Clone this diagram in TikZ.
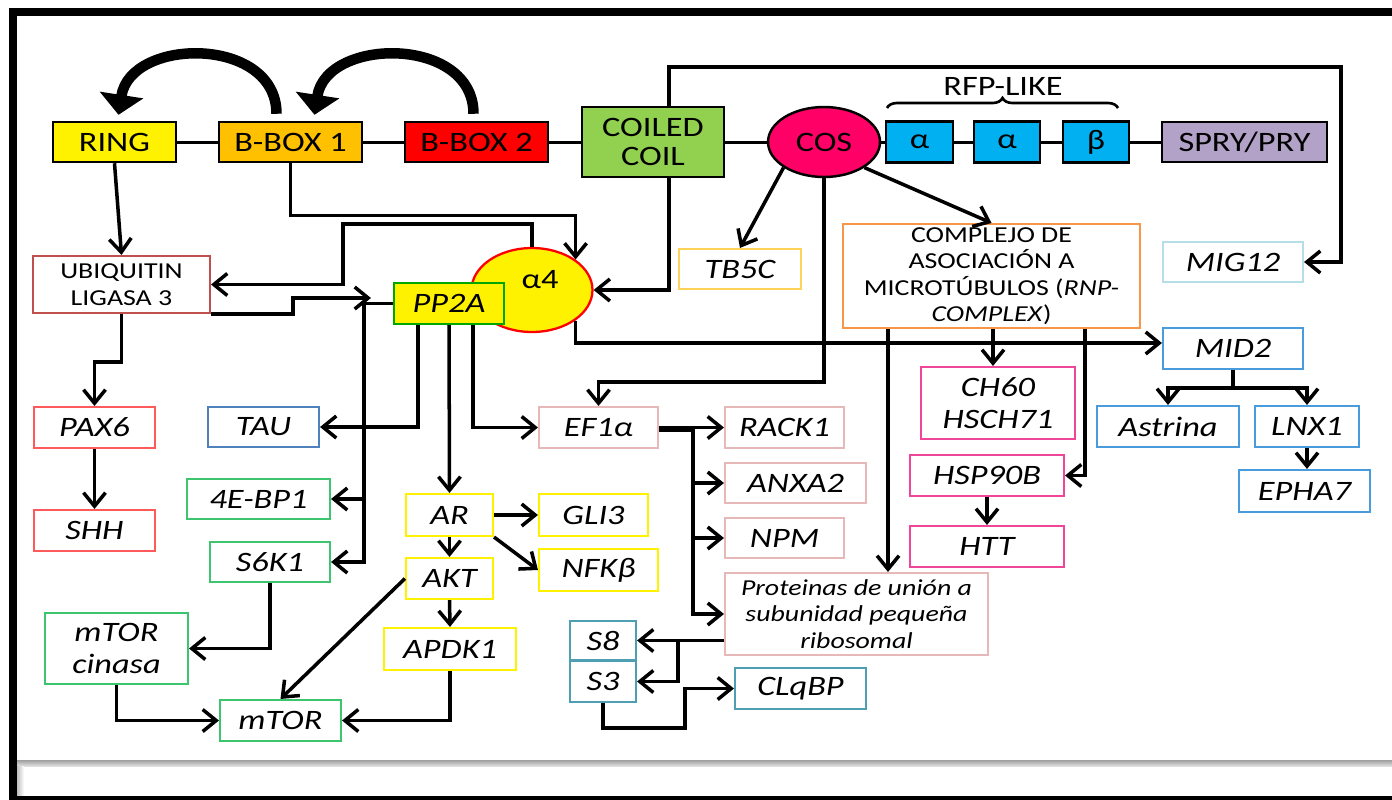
\documentclass[tikz,border=0pt]{standalone}
\usepackage{fontspec}
\setmainfont{Carlito}[FakeStretch=1.22]
\usetikzlibrary{arrows.meta,shapes.geometric,decorations.pathreplacing,calc}
\definecolor{bboxorange}{HTML}{FFC000}
\definecolor{coilgreen}{HTML}{92D050}
\definecolor{cosred}{HTML}{FF0066}
\definecolor{rfpblue}{HTML}{00B0F0}
\definecolor{sprylilac}{HTML}{B3A2C7}
\definecolor{ubqred}{HTML}{C0504D}
\definecolor{paxred}{HTML}{FF5A5A}
\definecolor{taublue}{HTML}{4F81BD}
\definecolor{torgreen}{HTML}{3CC46E}
\definecolor{aryellow}{HTML}{FFF200}
\definecolor{efpink}{HTML}{E6B8B7}
\definecolor{tbgold}{HTML}{FFD25A}
\definecolor{cplxorange}{HTML}{F79646}
\definecolor{migcyan}{HTML}{B7DEE8}
\definecolor{hspmagenta}{HTML}{F0469A}
\definecolor{midblue}{HTML}{4A9BDC}
\definecolor{rsteal}{HTML}{4F9FB3}
\newcommand\bigtxt{\fontsize{16}{18}\selectfont}
\newcommand\smalltxt{\fontsize{13}{15}\selectfont}

\begin{document}
\begin{tikzpicture}[x=0.02cm,y=-0.02cm,>={Straight Barb[length=0.27cm,width=0.44cm]},
  every node/.style={font=\bigtxt},
  dom/.style={draw=black,line width=1.4pt,inner sep=1pt},
  gene/.style={draw=#1,line width=1.2pt,fill=white,inner sep=1pt,font=\bigtxt\itshape},
  arr/.style={->,line width=2pt},
  link/.style={line width=1.7pt},
  bigarr/.style={line width=0.21cm,-{Triangle[width=0.86cm,length=0.40cm]}}]
  \useasboundingbox (0,0) rectangle (1392,799);

  % frame
  \draw[line width=0.16cm] (13,799) -- (13,11.5) -- (1392,11.5);
  \draw[line width=0.08cm] (9,797.5) -- (1392,797.5);
  \shade[top color=gray!75,bottom color=gray!25] (17,760) rectangle (1392,766);
  \shade[left color=gray!50,right color=white] (17,766) rectangle (24,795);

  % domains
  \node[dom,fill=yellow,minimum width=2.46cm,minimum height=0.80cm] (ring) at (114.5,142) {RING};
  \node[dom,fill=bboxorange,minimum width=2.86cm,minimum height=0.80cm] (bbox1) at (290.5,142) {B-BOX 1};
  \node[dom,fill=red,minimum width=2.86cm,minimum height=0.80cm] (bbox2) at (476.5,142) {B-BOX 2};
  \node[dom,fill=coilgreen,minimum width=2.84cm,minimum height=1.40cm,align=center] (coil) at (653,142) {COILED\\[-1pt]COIL};
  \node[dom,ellipse,fill=cosred,minimum width=2.24cm,minimum height=1.40cm,inner sep=0pt] (cos) at (824,142) {COS};
  \node[dom,fill=rfpblue,minimum width=1.34cm,minimum height=0.82cm] (alpha1) at (919.5,142) {α};
  \node[dom,fill=rfpblue,minimum width=1.32cm,minimum height=0.82cm] (alpha2) at (1007,142) {α};
  \node[dom,fill=rfpblue,minimum width=1.32cm,minimum height=0.82cm] (beta) at (1096,142) {β};
  \node[dom,fill=sprylilac,minimum width=3.30cm,minimum height=0.80cm] (spry) at (1244.5,142) {SPRY/PRY};
  \draw[line width=1.5pt,decorate,decoration={brace,amplitude=0.2cm}] (887,108) -- (1118,108);
  \node (rfp) at (1003,86) {RFP-LIKE};

  \draw[link] (ring.east) -- (bbox1.west);
  \draw[link] (bbox1.east) -- (bbox2.west);
  \draw[link] (bbox2.east) -- (coil.west);
  \draw[link] (coil.east) -- (cos.west);
  \draw[link] (cos.east) -- (alpha1.west);
  \draw[link] (alpha1.east) -- (alpha2.west);
  \draw[link] (alpha2.east) -- (beta.west);
  \draw[link] (beta.east) -- (spry.west);

  \draw[bigarr] ([shift={(-14,-7)}]bbox1.north) .. controls +(0,-78) and +(12,-78) .. ([shift={(4,-6)}]ring.north);
  \draw[bigarr] ([shift={(-3,-7)}]bbox2.north) .. controls +(0,-78) and +(12,-78) .. ([shift={(24,-6)}]bbox1.north);

  % partners
  \node[draw=red,line width=1.3pt,ellipse,fill=yellow,minimum width=2.42cm,minimum height=1.68cm,inner sep=0pt] (a4) at (532,290) {};
  \node (a4txt) at (540,280) {α4};
  \node[gene=green!65!black,fill=yellow,minimum width=2.20cm,minimum height=0.82cm] (pp2a) at (449,303.5) {PP2A};
  \node[gene=ubqred,font=\smalltxt,align=center,minimum width=3.54cm,minimum height=1.14cm] (ubiq) at (121.5,284.5) {UBIQUITIN\\LIGASA 3};
  \node[gene=tbgold,minimum width=2.44cm,minimum height=0.80cm] (tbfc) at (740,269) {TB5C};
  \node[gene=cplxorange,font=\smalltxt,align=center,minimum width=5.94cm,minimum height=2.08cm] (complejo) at (991.5,276)
    {COMPLEJO DE\\ASOCIACIÓN A\\MICROTÚBULOS (\textit{RNP-}\\\textit{COMPLEX})};
  \node[gene=migcyan,minimum width=2.80cm,minimum height=0.80cm] (mig12) at (1233,262) {MIG12};
  \node[gene=paxred,minimum width=2.42cm,minimum height=0.82cm] (pax6) at (94.5,427.5) {PAX6};
  \node[gene=paxred,minimum width=2.42cm,minimum height=0.82cm] (shh) at (94.5,530.5) {SHH};
  \node[gene=taublue,minimum width=2.22cm,minimum height=0.80cm] (tau) at (263.5,427) {TAU};
  \node[gene=torgreen,minimum width=2.86cm,minimum height=0.80cm] (ebp) at (258.5,499) {4E-BP1};
  \node[gene=torgreen,minimum width=2.40cm,minimum height=0.80cm] (s6k1) at (270,562) {S6K1};
  \node[gene=torgreen,align=center,minimum width=2.86cm,minimum height=1.42cm] (mtorc) at (116.5,648.5) {mTOR\\cinasa};
  \node[gene=torgreen,minimum width=2.42cm,minimum height=0.82cm] (mtor) at (280.5,720.5) {mTOR};
  \node[gene=aryellow,minimum width=1.74cm,minimum height=0.84cm] (ar) at (449.5,515) {AR};
  \node[gene=aryellow,minimum width=2.18cm,minimum height=0.84cm] (gli3) at (593.5,515) {GLI3};
  \node[gene=aryellow,minimum width=2.38cm,minimum height=0.84cm] (nfkb) at (598.5,570) {NFKβ};
  \node[gene=aryellow,minimum width=1.74cm,minimum height=0.82cm] (akt) at (449.5,578.5) {AKT};
  \node[gene=aryellow,minimum width=2.64cm,minimum height=0.84cm] (apdk1) at (450,649) {APDK1};
  \node[gene=efpink,minimum width=2.38cm,minimum height=0.82cm] (ef1a) at (598.5,427.5) {EF1α};
  \node[gene=efpink,minimum width=2.38cm,minimum height=0.82cm] (rack1) at (784.5,427.5) {RACK1};
  \node[gene=efpink,minimum width=2.82cm,minimum height=0.80cm] (anxa2) at (795.5,483) {ANXA2};
  \node[gene=efpink,minimum width=2.38cm,minimum height=0.80cm] (npm) at (784.5,538) {NPM};
  \node[gene=efpink,font=\smalltxt\itshape,align=center,minimum width=5.26cm,minimum height=1.64cm] (prot) at (856.5,614)
    {Proteinas de unión a\\subunidad pequeña\\ribosomal};
  \node[gene=rsteal,minimum width=1.32cm,minimum height=0.78cm] (s8) at (603,640.5) {S8};
  \node[gene=rsteal,minimum width=1.32cm,minimum height=0.82cm] (s3) at (603,681.5) {S3};
  \node[gene=rsteal,minimum width=2.62cm,minimum height=0.82cm] (clqbp) at (800.5,688.5) {CLqBP};
  \node[gene=hspmagenta,align=center,minimum width=3.08cm,minimum height=1.44cm] (ch60) at (998,403) {CH60\\HSCH71};
  \node[gene=hspmagenta,minimum width=3.08cm,minimum height=0.82cm] (hsp) at (987,475.5) {HSP90B};
  \node[gene=hspmagenta,minimum width=3.08cm,minimum height=0.82cm] (htt) at (987,546.5) {HTT};
  \node[gene=midblue,minimum width=2.80cm,minimum height=0.82cm] (mid2) at (1233,348.5) {MID2};
  \node[gene=midblue,minimum width=2.84cm,minimum height=0.82cm] (astrina) at (1168,426.5) {Astrina};
  \node[gene=midblue,minimum width=2.08cm,minimum height=0.82cm] (lnx1) at (1307,426.5) {LNX1};
  \node[gene=midblue,minimum width=2.62cm,minimum height=0.84cm] (epha7) at (1304.5,491) {EPHA7};

  % connectors
  \draw[arr] ([xshift=0.32cm]coil.north) -- ++(0,-39) -| ([xshift=0.74cm]mig12.east) -- (mig12.east);
  \draw[arr] ([xshift=0.32cm]coil.south) |- (a4.east);
  \draw[arr] (bbox1.south) |- ([yshift=0.88cm]a4.north east) -- (a4.north east);
  \draw[arr] (a4.north) -- ++(0,-23) -| ([xshift=2.64cm]ubiq.east) -- (ubiq.east);
  \draw[arr] (ubiq.south east) -- ++(82,0) |- ([shift={(-22,-5.5)}]pp2a.west);
  \draw[arr] (pp2a.west) -| ([xshift=0.66cm]s6k1.east) -- (s6k1.east);
  \draw[arr] ([xshift=0.66cm]ebp.east) -- (ebp.east);
  \draw[arr] ([xshift=-0.62cm]pp2a.south) |- (tau.east);
  \draw[arr] (pp2a.south) -- (ar.north);
  \draw[arr] ([xshift=0.48cm]pp2a.south) |- (ef1a.west);
  \draw[arr] (a4.south east) |- ([yshift=0.11cm]mid2.west);
  \draw[arr] (ring.south) -- (ubiq.north);
  \draw[arr] (ubiq.south) -- ++(0,48) -| (pax6.north);
  \draw[arr] (pax6.south) -- (shh.north);
  \draw[arr] (s6k1.south) |- (mtorc.east);
  \draw[arr] (mtorc.south) |- (mtor.west);
  \draw[arr] (apdk1.south) |- (mtor.east);
  \draw[arr] (akt.west) -- (mtor.north);
  \draw[arr] (ar.east) -- (gli3.west);
  \draw[arr] (ar.south east) -- (nfkb.west);
  \draw[arr] (ar.south) -- (akt.north);
  \draw[arr] (akt.south) -- (apdk1.north);
  \draw[arr] (cos.south west) -- (tbfc.north);
  \draw[arr] (cos.south east) -- (complejo.north);
  \draw[arr] (cos.south) -- ++(0,204) -| (ef1a.north);
  \draw[arr] ([xshift=-2.07cm]complejo.south) -- ([xshift=-2.07cm]complejo.south |- prot.north);
  \draw[arr] ([xshift=0.03cm]complejo.south) -- ([xshift=0.03cm]complejo.south |- ch60.north);
  \draw[arr] ([xshift=1.87cm]complejo.south) |- (hsp.east);
  \draw[arr] (hsp.south) -- (htt.north);
  \draw[arr] (mid2.south) -- ++(0,18) -| (astrina.north);
  \draw[arr] (mid2.south) -- ++(0,18) -| (lnx1.north);
  \draw[arr] (lnx1.south) -- (lnx1.south |- epha7.north);
  \draw[arr] (ef1a.east) -- (rack1.west);
  \draw[arr] ([yshift=-0.06cm]ef1a.east) -- ++(34,0) |- (prot.west);
  \draw[arr] ([xshift=-0.66cm]anxa2.west) -- (anxa2.west);
  \draw[arr] ([xshift=-0.66cm]npm.west) -- (npm.west);
  \draw[arr] (prot.west |- s8.east) -- (s8.east);
  \draw[arr] (prot.west |- s8.east) -- ++(-46,0) |- (s3.east);
  \draw[arr] (s3.south) -- ++(0,25) -| ([xshift=-0.98cm]clqbp.west) -- (clqbp.west);
\end{tikzpicture}
\end{document}
